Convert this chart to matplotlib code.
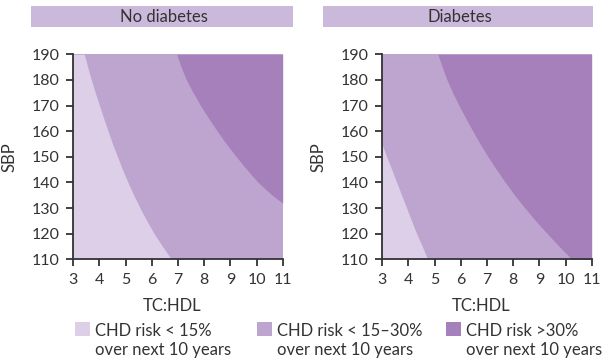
import matplotlib
matplotlib.use('Agg')
import matplotlib.pyplot as plt
from matplotlib.patches import Rectangle

plt.rcParams['font.family'] = ['Lato', 'DejaVu Sans']

# SBP / TC:HDL boundary points
nd_sbp_lo = [110, 115, 120, 125, 130, 135, 140, 145, 150, 155, 160, 165,
             170, 175, 180, 185, 190]
nd_tc_lo = [6.75, 6.41, 6.09, 5.81, 5.55, 5.31, 5.09, 4.88, 4.69, 4.50,
            4.33, 4.16, 4.00, 3.84, 3.69, 3.55, 3.42]
nd_sbp_hi = [131.9, 135, 140, 145, 150, 155, 160, 165, 170, 175, 180, 185,
             190]
nd_tc_hi = [11.0, 10.6, 10.06, 9.63, 9.23, 8.85, 8.50, 8.17, 7.86, 7.58,
            7.32, 7.12, 6.95]

d_sbp_lo = [110, 115, 120, 125, 130, 135, 140, 145, 150, 154.6]
d_tc_lo = [4.73, 4.53, 4.31, 4.12, 3.93, 3.74, 3.55, 3.36, 3.17, 3.0]
d_sbp_hi = [110, 115, 120, 125, 130, 135, 140, 145, 150, 155, 160, 165,
            170, 175, 180, 185, 190]
d_tc_hi = [10.24, 9.76, 9.30, 8.86, 8.45, 8.06, 7.70, 7.36, 7.04, 6.74,
           6.46, 6.19, 5.93, 5.69, 5.47, 5.29, 5.12]

panel_titles = ['No diabetes', 'Diabetes']
x_ticks = [3, 4, 5, 6, 7, 8, 9, 10, 11]
y_ticks = [110, 120, 130, 140, 150, 160, 170, 180, 190]
legend_labels = ['CHD risk < 15%\nover next 10 years',
                 'CHD risk < 15\u201330%\nover next 10 years',
                 'CHD risk >30%\nover next 10 years']

c_low = '#dccfe7'
c_mid = '#bea5cf'
c_high = '#a680ba'
c_head = '#cbb9dc'
c_text = '#333333'

W, H = 602, 359
fig = plt.figure(figsize=(W / 100, H / 100), dpi=100)

def fx(px):
    return px / W

def fy(py):
    return 1 - py / H

panels = [
    (73.3, (nd_sbp_lo, nd_tc_lo, nd_sbp_hi, nd_tc_hi), (31, 292.7), 18),
    (382.3, (d_sbp_lo, d_tc_lo, d_sbp_hi, d_tc_hi), (322.7, 592.7), 327),
]

for i, (left, curves, head, ylab_x) in enumerate(panels):
    ax = fig.add_axes([fx(left), fy(259.3), 209.4 / W, 205 / H])
    sbp_lo, tc_lo, sbp_hi, tc_hi = curves
    ax.set_facecolor(c_mid)
    ax.fill_betweenx(sbp_lo, 3, tc_lo, color=c_low, lw=0)
    ax.fill_betweenx(sbp_hi, tc_hi, 11, color=c_high, lw=0)
    ax.set_xlim(3, 11)
    ax.set_ylim(110, 190)
    ax.set_xticks(x_ticks)
    ax.set_yticks(y_ticks)
    for s in ['top', 'right']:
        ax.spines[s].set_visible(False)
    for s in ['left', 'bottom']:
        ax.spines[s].set_color(c_text)
        ax.spines[s].set_linewidth(1.3)
    ax.tick_params(direction='out', length=5, width=1.3, color=c_text,
                   labelcolor=c_text, labelsize=11.5)
    ax.tick_params(axis='x', pad=5)
    ax.tick_params(axis='y', pad=5)
    ax.set_xlabel('TC:HDL', fontsize=12, color=c_text)
    ax.set_ylabel('SBP', fontsize=12, color=c_text)
    ax.xaxis.set_label_coords(0.474, -0.19)
    ax.yaxis.set_label_coords((ylab_x - left) / 209.4, 0.5)

    # header strip
    fig.add_artist(Rectangle((fx(head[0]), fy(27.3)), fx(head[1] - head[0]),
                             21.3 / H, color=c_head, lw=0,
                             transform=fig.transFigure))
    fig.text(fx((head[0] + head[1]) / 2 + 2), fy(16.5), panel_titles[i],
             ha='center', va='center', fontsize=12, color=c_text)

# legend
leg_x = [75, 256.7, 446]
leg_colors = [c_low, c_mid, c_high]
for x0, col, lab in zip(leg_x, leg_colors, legend_labels):
    fig.add_artist(Rectangle((fx(x0), fy(336)), 15 / W, 14.3 / H, color=col,
                             lw=0, transform=fig.transFigure))
    fig.text(fx(x0 + 20), fy(323), lab, ha='left', va='top', fontsize=12,
             color=c_text, linespacing=1.22)

fig.savefig('out.png', dpi=100)
